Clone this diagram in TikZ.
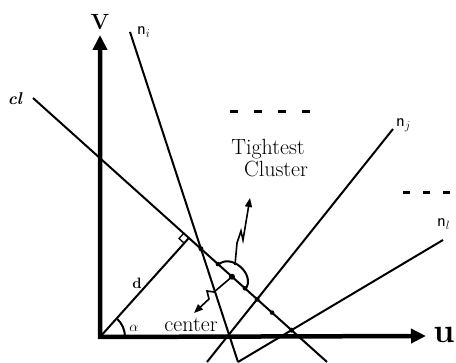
\documentclass[tikz,border=0pt]{standalone}
\usepackage{amsmath}
\usepackage{tikz}
\usetikzlibrary{
    arrows.meta,
    calc
}

\tikzset{
    axis/.style={line width=4.5pt, {Triangle[length=15pt,width=14pt]}-{Triangle[length=15pt,width=14pt]}},
    thinline/.style={line width=2pt},
    jag/.style={line width=1.6pt, -{Triangle[length=9pt,width=7pt]}},
    lbl/.style={inner sep=0pt, font=\fontsize{22}{26}\selectfont},
    nlbl/.style={inner sep=0pt, font=\fontsize{18}{22}\selectfont\sffamily}
}

\begin{document}
\begin{tikzpicture}[x=1pt,y=1pt]
\useasboundingbox (0,0) rectangle (456,363);

% Points
\coordinate (O) at (100,26);
\coordinate (Vtip) at (100,328);
\coordinate (Utip) at (426,27);
\coordinate (clA) at (33,265);
\coordinate (clB) at (327,1);
\coordinate (niT) at (130,331);
\coordinate (niB) at (238,1);
\coordinate (njT) at (393,234);
\coordinate (njB) at (207,1);
\coordinate (nlT) at (443,123);
\coordinate (nlB) at (238,1);

% Axes
\draw[axis] (Vtip) -- (O) -- (Utip);
\node[inner sep=0pt, font=\fontsize{22}{26}\selectfont\bfseries] (vlbl) at (100,341) {V};
\node[inner sep=0pt, font=\fontsize{34}{40}\selectfont\bfseries] (ulbl) at (444,28) {u};

% Lines
\draw[thinline] (clA) -- (clB);
\draw[thinline] (niT) -- (niB);
\draw[thinline] (njT) -- (njB);
\draw[thinline] (nlT) -- (nlB);

\node[inner sep=0pt, font=\fontsize{17}{20}\selectfont\bfseries\itshape] (cllbl) at (15,264) {cl};
\node[nlbl, anchor=base west] (nilbl) at (137,328) {n$_i$};
\node[nlbl, anchor=base west] (njlbl) at (396,236) {n$_j$};
\node[nlbl, anchor=base west] (nllbl) at (437,136) {n$_l$};

% Normal d and angle
\coordinate (F) at ($(clA)!(O)!(clB)$);
\draw[thinline] (O) -- (F);
\coordinate (r1) at ($(F)!7pt!(clA)$);
\coordinate (r3) at ($(F)!7pt!(O)$);
\draw[line width=1.3pt] (r1) -- ($(r1)+(r3)-(F)$) -- (r3);
\draw[thinline] ($(O)+(25,0)$) arc[start angle=0, end angle=48, radius=25pt];
\node[inner sep=0pt, font=\fontsize{15}{18}\selectfont\bfseries] (dlbl) at (137,80) {d};
\node[inner sep=0pt, font=\fontsize{15}{18}\selectfont] (alpha) at (134,35) {$\alpha$};

% Points on cl
\foreach \t in {0.629,0.721,0.813}
    \fill ($(clA)!\t!(clB)$) circle (2.3pt);
\fill (intersection of clA--clB and niT--niB) circle (2.5pt);
\fill (intersection of clA--clB and njT--njB) circle (2.5pt);
\fill (intersection of clA--clB and nlT--nlB) circle (2.5pt);

% Tightest cluster
\coordinate (Cc) at ($(clA)!0.677!(clB)$);
\fill (Cc) circle (3pt);
\draw[thinline, shift={(Cc)}, rotate=-41.9] (-18,0) arc[start angle=180, end angle=0, x radius=18pt, y radius=13pt];
\coordinate (uptip) at (250,165);
\coordinate (lowtip) at (194,50);
\draw[jag] (235,98) -- (237,120) -- (241,132) -- (243,123) -- (uptip);
\draw[jag] (Cc) -- (214,71) -- (207,72) -- (209,64) -- (lowtip);

\draw[line width=3pt, dash pattern=on 8pt off 16pt] (230,251) -- (310,251);
\draw[line width=3pt, dash pattern=on 7pt off 13pt] (403,170) -- (456,170);
\node[lbl, anchor=base] (tight) at (268,208) {Tightest};
\node[lbl, anchor=base] (clus) at (276,186) {Cluster};
\node[lbl] (cent) at (191,38) {center};

\end{tikzpicture}
\end{document}
